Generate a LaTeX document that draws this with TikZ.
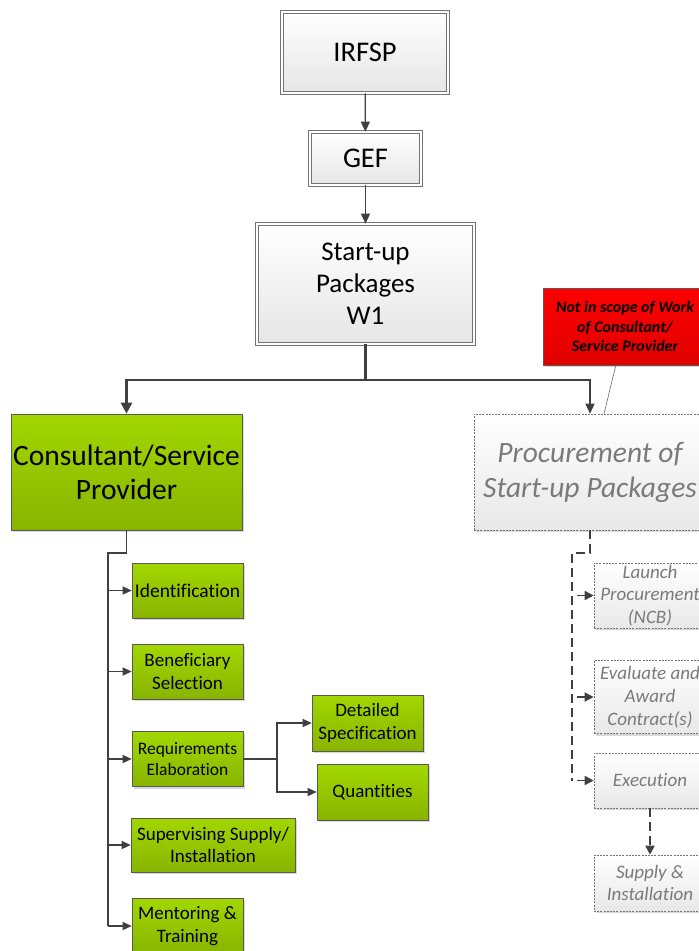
\documentclass[tikz,border=0pt]{standalone}
\usepackage{fontspec}
\setmainfont[Ligatures=NoCommon]{Carlito}
\usetikzlibrary{arrows.meta,shadows}
\definecolor{conn}{HTML}{404040}
\definecolor{gtop}{HTML}{A2D700}
\definecolor{gbot}{HTML}{88B400}
\definecolor{pgray}{HTML}{7A7A7A}
\tikzset{
  fs/.style 2 args={font=\fontsize{#1}{#2}\selectfont},
  shad/.style={drop shadow={shadow xshift=2pt,shadow yshift=-2pt,fill=black!30,opacity=0.5}},
  graybox/.style={shad,draw=black!55,double=white,double distance=2.2pt,line width=0.6pt,
    top color=white,bottom color=black!10,align=center,inner sep=0pt,text=black},
  greenbox/.style={shad,draw=black!65,line width=0.6pt,top color=gtop,bottom color=gbot,
    align=center,inner sep=0pt,text=black},
  procbox/.style={shad,draw=black!55,dash pattern=on 2pt off 1.2pt,line width=0.6pt,
    top color=white,bottom color=black!9,align=center,inner sep=0pt,text=pgray},
  redbox/.style={shad,draw=black!65,line width=0.6pt,top color=red!100,bottom color=red!88!black,
    align=center,inner sep=0pt,text=black},
  con/.style={draw=conn,line width=1.2pt,-{Triangle[length=10pt,width=9pt]}},
  conthick/.style={draw=conn,line width=2.8pt,-{Triangle[length=11pt,width=11pt]}},
  condash/.style={draw=conn,line width=1.7pt,dash pattern=on 9pt off 5pt,-{Triangle[length=9pt,width=9pt]}},
  conthin/.style={draw=conn,line width=1.2pt,-{Triangle[length=9pt,width=8pt]}},
}
\begin{document}
\begin{tikzpicture}[x=1pt,y=-1pt]
\useasboundingbox[fill=white] (0,0) rectangle (699,951);
% top chain
\node[graybox,fs={28.5}{34},minimum width=166,minimum height=81] (irfsp) at (365,52.5) {IRFSP};
\node[graybox,fs={28.5}{34},minimum width=111,minimum height=53] (gef) at (365.5,158.5) {GEF};
\node[graybox,fs={27}{32},minimum width=217,minimum height=120] (start) at (365.5,284) {Start-up\\Packages\\W1};
% level 2
\node[greenbox,fs={29.5}{34},minimum width=231,minimum height=116] (cons) at (126.5,472) {Consultant/Service\\Provider};
\node[procbox,fs={29.5}{35},minimum width=232,minimum height=116] (proc) at (590,472) {\itshape Procurement of\\\itshape Start-up Packages};
\node[redbox,fs={16}{19.5},minimum width=164,minimum height=77] (red) at (625,326.5) {\bfseries\itshape Not in scope of Work\\\bfseries\itshape of Consultant/\\\bfseries\itshape Service Provider};
% green children
\node[greenbox,fs={19.5}{22},minimum width=111,minimum height=55] (ident) at (187.5,590.5) {Identification};
\node[greenbox,fs={19}{23},minimum width=111,minimum height=55] (benef) at (187.5,671.5) {Beneficiary\\Selection};
\node[greenbox,fs={17.5}{21},minimum width=111,minimum height=55] (req) at (187.5,759) {Requirements\\Elaboration};
\node[greenbox,fs={19}{22.5},minimum width=164,minimum height=54] (sup) at (213,845) {Supervising Supply/\\Installation};
\node[greenbox,fs={19}{23},minimum width=111,minimum height=56] (ment) at (187.5,926) {Mentoring \&\\Training};
\node[greenbox,fs={19}{23},minimum width=111,minimum height=56] (det) at (367.5,723) {Detailed\\Specification};
\node[greenbox,fs={19}{23},minimum width=111,minimum height=56] (quant) at (372.5,792) {Quantities};
% proc children
\node[procbox,fs={19}{22.5},minimum width=112,minimum height=65] (launch) at (650,595.5) {\itshape Launch\\\itshape Procurement\\\itshape (NCB)};
\node[procbox,fs={19}{23},minimum width=112,minimum height=73] (eval) at (650,697) {\itshape Evaluate and\\\itshape Award\\\itshape Contract(s)};
\node[procbox,fs={19}{22.5},minimum width=112,minimum height=55] (exec) at (650,780.5) {\itshape Execution};
\node[procbox,fs={19}{22.5},minimum width=112,minimum height=56] (supply) at (650,883) {\itshape Supply \&\\\itshape Installation};
% connectors top
\draw[con] (irfsp) -- (gef);
\draw[con] (gef) -- (start);
\coordinate (j1) at (365.5,380);
\draw[conthick] (start.south) -- (j1) -| (cons.north);
\draw[con] (j1) -| (proc.north);
% callout
\coordinate (cl) at (604,414);
\draw[draw=black!60,line width=0.6pt] (616,364.5) -- (cl);
% green trunk
\coordinate (t0) at (126.5,553);
\coordinate (t1) at (108,553);
\draw[conthin,-] (cons.south) -- (t0) -- (t1) -- (108,926);
\foreach \n in {ident,benef,req,sup,ment}{
  \draw[conthin] (108,0 |- \n.west) -- (\n.west);
}
% requirements split
\coordinate (sp) at (277,759);
\draw[draw=conn,line width=1.4pt] (req.east) -- (sp);
\draw[conthin] (sp) |- (det.west);
\draw[conthin] (sp) |- (quant.west);
% proc trunk
\coordinate (p0) at (590,553);
\coordinate (p1) at (572,553);
\draw[condash,-] (proc.south) -- (p0) -- (p1) -- (572,780.5);
\foreach \n in {launch,eval,exec}{
  \draw[draw=conn,line width=1.5pt,-{Triangle[length=9pt,width=9pt]}] (572,0 |- \n.west) ++(5,0) -- (\n.west);
}
\draw[condash] (exec) -- (supply);
\end{tikzpicture}
\end{document}
